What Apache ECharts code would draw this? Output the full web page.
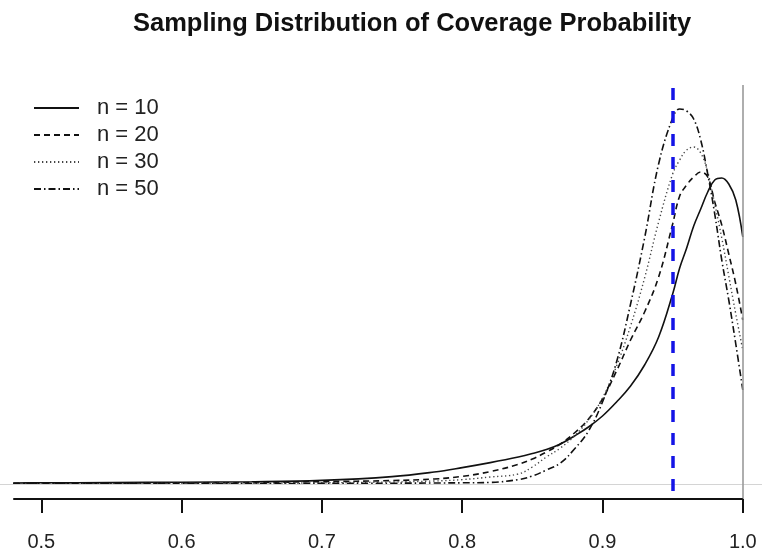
<!DOCTYPE html>
<html lang="en">
  <head>
    <meta charset="UTF-8" />
    <title>Sampling Distribution of Coverage Probability</title>
    <script src="https://cdn.jsdelivr.net/npm/echarts@6/dist/echarts.min.js"></script>
    <style>
      html, body { margin: 0; padding: 0; background: #fff; }
    </style>
  </head>
  <body>
    <div id="main" style="width: 762px; height: 557px"></div>
    <script>
      // coverage probability grid (shared by all curves)
      const xs = [0.48, 0.50, 0.55, 0.60, 0.65, 0.70, 0.75, 0.78, 0.80, 0.82, 0.84, 0.85, 0.86, 0.87, 0.88, 0.89,
        0.90, 0.91, 0.92, 0.93, 0.94, 0.95, 0.955, 0.96, 0.965, 0.97, 0.975, 0.98, 0.985, 0.99, 0.995, 1.0];
      // density estimates
      const n10 = [0.05, 0.06, 0.07, 0.09, 0.11, 0.18, 0.37, 0.6, 0.82, 1.07, 1.35, 1.52, 1.72, 2.0, 2.4, 2.85,
        3.4, 4.1, 4.9, 5.95, 7.35, 9.5, 10.8, 11.8, 12.9, 13.75, 14.6, 15.2, 15.3, 15.0, 14.2, 12.35];
      const n20 = [0.03, 0.03, 0.04, 0.05, 0.07, 0.12, 0.17, 0.25, 0.38, 0.62, 0.98, 1.25, 1.6, 2.0, 2.55, 3.25,
        4.25, 5.65, 7.2, 8.6, 10.35, 13.0, 14.4, 14.95, 15.35, 15.6, 15.35, 14.1, 12.95, 11.5, 10.0, 8.2];
      const n30 = [0.02, 0.02, 0.02, 0.03, 0.04, 0.06, 0.1, 0.15, 0.22, 0.35, 0.5, 0.85, 1.35, 1.8, 2.4, 3.2,
        4.3, 5.9, 7.9, 10.3, 13.1, 15.5, 16.2, 16.7, 16.85, 16.55, 15.6, 14.0, 12.3, 10.4, 8.5, 6.7];
      const n50 = [0.01, 0.01, 0.01, 0.01, 0.02, 0.03, 0.04, 0.05, 0.06, 0.08, 0.22, 0.4, 0.7, 1.05, 1.75, 2.65,
        4.1, 6.1, 9.0, 12.3, 16.0, 18.3, 18.75, 18.65, 18.25, 17.2, 15.5, 13.5, 11.2, 9.2, 7.0, 4.7];
      const seriesNames = ['n = 10', 'n = 20', 'n = 30', 'n = 50'];
      const tickValues = [0.5, 0.6, 0.7, 0.8, 0.9, 1.0];
      const nominal = 0.95;
      const axisRange = [0.48, 1.0];

      const yMin = -0.75;
      const yMax = 19.95;

      const lineTypes = ['solid', [6, 4], [1.3, 2.7], [7, 3, 1.5, 3]];
      const lineWidths = [1.6, 1.6, 1.4, 1.6];
      const lineColors = ['#111', '#111', '#444', '#111'];

      const pair = (vals) => xs.map((x, i) => [x, vals[i]]);
      const curves = [n10, n20, n30, n50];

      const series = curves.map((vals, i) => ({
        name: seriesNames[i],
        type: 'line',
        data: pair(vals),
        symbol: 'none',
        smooth: 0.4,
        lineStyle: { color: lineColors[i], width: lineWidths[i], type: lineTypes[i] },
        itemStyle: { color: lineColors[i] },
        z: 3,
      }));

      // reference lines: baseline, x = 1, axis line, nominal level
      const axisMarks = [
        { yAxis: 0, lineStyle: { color: '#d4d4d4', width: 1.2, type: 'solid' } },
        [
          { coord: [axisRange[1], yMin], lineStyle: { color: '#9a9a9a', width: 1.6, type: 'solid' } },
          { coord: [axisRange[1], yMax] },
        ],
        [
          { coord: [axisRange[0], yMin], lineStyle: { color: '#111', width: 2, type: 'solid' } },
          { coord: [axisRange[1], yMin] },
        ],
      ];
      series.push({
        type: 'line',
        data: [],
        silent: true,
        markLine: {
          silent: true,
          symbol: 'none',
          label: { show: false },
          animation: false,
          data: axisMarks,
        },
        z: 2,
      });
      series.push({
        type: 'line',
        data: [],
        silent: true,
        markLine: {
          silent: true,
          symbol: 'none',
          label: { show: false },
          animation: false,
          data: [
            [
              { coord: [nominal, yMax - 0.15], lineStyle: { color: '#1414e6', width: 3.5, type: [12, 11] } },
              { coord: [nominal, yMin] },
            ],
          ],
        },
        z: 4,
      });

      const chart = echarts.init(document.getElementById('main'));
      chart.setOption({
        animation: false,
        backgroundColor: '#fff',
        textStyle: { fontFamily: 'Liberation Sans, Arial, sans-serif' },
        title: {
          text: 'Sampling Distribution of Coverage Probability',
          left: 128,
          top: 6,
          textStyle: { fontSize: 25.5, fontWeight: 'bold', color: '#111', fontFamily: 'Liberation Sans, Arial, sans-serif' },
        },
        legend: {
          data: seriesNames,
          orient: 'vertical',
          left: 33,
          top: 97,
          padding: 0,
          itemWidth: 45,
          itemHeight: 14,
          itemGap: 5,
          selectedMode: false,
          itemStyle: { opacity: 0 },
          textStyle: { fontSize: 22, lineHeight: 22, color: '#222', padding: [0, 0, 0, 13] },
        },
        grid: { left: 0, right: 0, top: 85, bottom: 58 },
        xAxis: {
          type: 'value',
          min: 0.5 - 41.3 / 1403,
          max: 0.5 + (762 - 41.3) / 1403,
          axisLine: { show: false, onZero: false },
          splitLine: { show: false },
          axisTick: {
            show: true,
            inside: false,
            customValues: tickValues,
            length: 14,
            lineStyle: { color: '#111', width: 2 },
          },
          axisLabel: {
            customValues: tickValues,
            margin: 33,
            fontSize: 20,
            color: '#222',
            formatter: (v) => v.toFixed(1),
          },
        },
        yAxis: {
          type: 'value',
          min: yMin,
          max: yMax,
          show: false,
        },
        series: series,
      });
    </script>
  </body>
</html>
